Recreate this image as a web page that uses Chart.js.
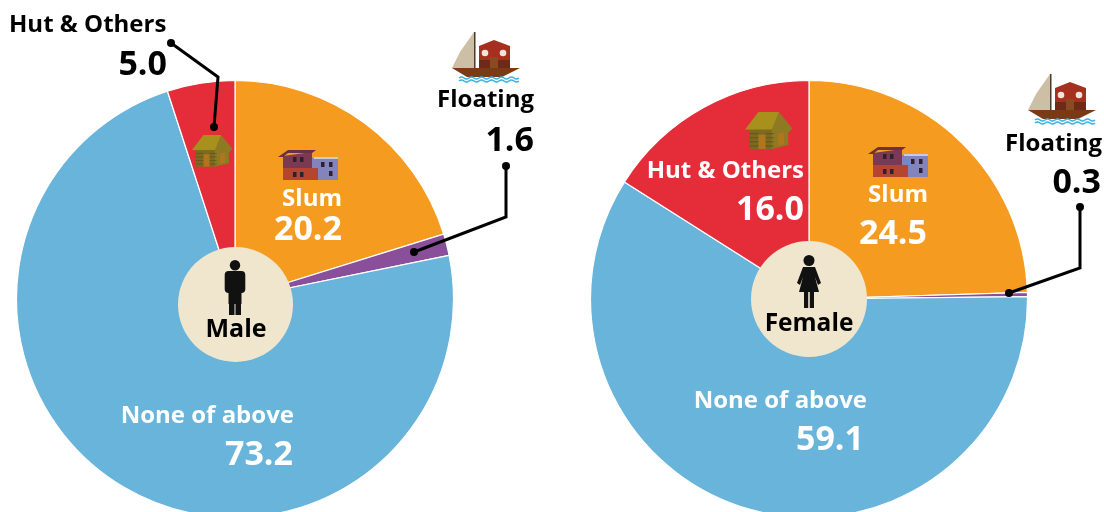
<!DOCTYPE html>
<html>
<head>
<meta charset="utf-8">
<script src="https://cdn.jsdelivr.net/npm/chart.js@4"></script>
<style>
  html, body { margin: 0; padding: 0; background: #fff; overflow: hidden; }
  #wrap { position: relative; width: 1104px; height: 512px; }
  canvas { position: absolute; top: 0; }
</style>
</head>
<body>
<div id="wrap">
  <canvas id="maleChart" width="552" height="512" style="left:0"></canvas>
  <canvas id="femaleChart" width="552" height="512" style="left:552px"></canvas>
</div>
<script>
const categories = ["Slum", "Floating", "None of above", "Hut & Others"]
const maleValues = [20.2, 1.6, 73.2, 5.0]
const femaleValues = [24.5, 0.3, 59.1, 16.0]
const genders = ["Male", "Female"]

const sliceColors = ["#F59C20", "#8A4F9B", "#69B4DA", "#E52D3A"]
const FONT = "'Open Sans', 'Noto Sans', sans-serif"
const NAME_SIZE = 24
const VALUE_SIZE = 34

// Draw text with weight and alignment in one call
function drawText(ctx, text, x, y, size, color, align) {
  ctx.font = `bold ${size}px ${FONT}`
  ctx.fillStyle = color
  ctx.textAlign = align || "left"
  ctx.textBaseline = "alphabetic"
  ctx.fillText(text, x, y)
}

function polygon(ctx, color, pts) {
  ctx.fillStyle = color
  ctx.beginPath()
  pts.forEach((p, i) => (i ? ctx.lineTo(p[0], p[1]) : ctx.moveTo(p[0], p[1])))
  ctx.closePath()
  ctx.fill()
}

function dot(ctx, x, y) {
  ctx.fillStyle = "#000"
  ctx.beginPath()
  ctx.arc(x, y, 4, 0, Math.PI * 2)
  ctx.fill()
}

// Leader line with a dot on each end
function leader(ctx, pts) {
  ctx.strokeStyle = "#000"
  ctx.lineWidth = 3
  ctx.lineJoin = "miter"
  ctx.beginPath()
  pts.forEach((p, i) => (i ? ctx.lineTo(p[0], p[1]) : ctx.moveTo(p[0], p[1])))
  ctx.stroke()
  dot(ctx, pts[0][0], pts[0][1])
  dot(ctx, pts[pts.length - 1][0], pts[pts.length - 1][1])
}

// Icons, drawn in a local box and scaled to fit
function boatIcon(ctx, x, y, s) {
  ctx.save()
  ctx.translate(x, y)
  ctx.scale(s, s)
  polygon(ctx, "#CDBFA6", [[22, 0], [22, 36], [0, 36], [8, 20]])
  polygon(ctx, "#4A3A2A", [[22, 0], [23.5, 0], [23.5, 37], [22, 37]])
  polygon(ctx, "#A5301F", [[27, 14], [42, 8], [58, 14], [58, 36], [27, 36]])
  polygon(ctx, "#6E2A18", [[27, 28], [58, 28], [58, 36], [27, 36]])
  polygon(ctx, "#8A4A22", [[38, 25], [46, 25], [46, 36], [38, 36]])
  ctx.fillStyle = "#EDE6DA"
  ctx.beginPath()
  ctx.arc(33, 21, 3.3, 0, Math.PI * 2)
  ctx.arc(51, 21, 3.3, 0, Math.PI * 2)
  ctx.fill()
  polygon(ctx, "#7A3A14", [[0, 36], [68, 36], [50, 45], [15, 45]])
  ctx.strokeStyle = "#3FB2E0"
  ctx.lineWidth = 1.6
  for (const wy of [46, 49]) {
    ctx.beginPath()
    ctx.moveTo(7, wy)
    for (let wx = 7; wx < 60; wx += 10) {
      ctx.quadraticCurveTo(wx + 2.5, wy - 2, wx + 5, wy)
      ctx.quadraticCurveTo(wx + 7.5, wy + 2, wx + 10, wy)
    }
    ctx.stroke()
  }
  ctx.restore()
}

function hutIcon(ctx, x, y, s) {
  ctx.save()
  ctx.translate(x, y)
  ctx.scale(s, s)
  polygon(ctx, "#7C6A20", [[4, 15], [28, 15], [28, 36], [4, 36]])
  polygon(ctx, "#8E7A22", [[26, 15], [33, 0], [46, 16], [42, 20], [42, 32], [26, 36]])
  polygon(ctx, "#A8901C", [[0, 17], [13, 0], [33, 0], [26, 17]])
  polygon(ctx, "#B0761E", [[13, 22], [20, 22], [20, 36], [13, 36]])
  polygon(ctx, "#B0761E", [[32, 21], [38, 20], [38, 31], [32, 33]])
  ctx.strokeStyle = "#5F5214"
  ctx.lineWidth = 0.8
  for (const ly of [21, 25, 29, 33]) {
    ctx.beginPath()
    ctx.moveTo(4, ly)
    ctx.lineTo(13, ly)
    ctx.moveTo(20, ly)
    ctx.lineTo(28, ly)
    ctx.stroke()
  }
  ctx.restore()
}

function slumIcon(ctx, x, y, s) {
  ctx.save()
  ctx.translate(x, y)
  ctx.scale(s, s)
  polygon(ctx, "#8484BC", [[32, 11], [60, 11], [60, 33], [32, 33]])
  polygon(ctx, "#C9C9E0", [[36, 10], [60, 10], [60, 12], [36, 12]])
  polygon(ctx, "#7B3A52", [[5, 9], [34, 5], [34, 33], [5, 33]])
  polygon(ctx, "#B5452F", [[5, 21], [40, 21], [40, 33], [5, 33]])
  polygon(ctx, "#6A3044", [[0, 10], [10, 3], [38, 3], [34, 6], [10, 6], [5, 10]])
  ctx.fillStyle = "#2E2030"
  for (const [wx, wy] of [[15, 10], [22, 10], [15, 25], [22, 25], [43, 15], [51, 15], [51, 24]]) {
    ctx.fillRect(wx, wy, 3.5, 5)
  }
  ctx.restore()
}

function maleIcon(ctx, cx, top) {
  ctx.fillStyle = "#111"
  ctx.beginPath()
  ctx.arc(cx, top + 5.2, 5.2, 0, Math.PI * 2)
  ctx.fill()
  ctx.beginPath()
  ctx.roundRect(cx - 10.3, top + 11, 20.6, 22, 4)
  ctx.fill()
  ctx.fillRect(cx - 6.5, top + 20, 13, 24)
  ctx.fillRect(cx - 6, top + 34, 5.5, 21)
  ctx.fillRect(cx + 0.5, top + 34, 5.5, 21)
}

function femaleIcon(ctx, cx, top) {
  ctx.fillStyle = "#111"
  ctx.beginPath()
  ctx.arc(cx, top + 5.5, 5.5, 0, Math.PI * 2)
  ctx.fill()
  polygon(ctx, "#111", [[cx - 6, top + 12], [cx + 6, top + 12], [cx + 12, top + 28], [cx + 9, top + 30],
    [cx + 6, top + 22], [cx + 10, top + 37], [cx - 10, top + 37], [cx - 6, top + 22], [cx - 9, top + 30], [cx - 12, top + 28]])
  ctx.fillRect(cx - 5, top + 36, 4.2, 17)
  ctx.fillRect(cx + 0.8, top + 36, 4.2, 17)
}

// Everything on top of the pie in the male panel (canvas coords = page coords)
function drawMaleOverlay(ctx) {
  ctx.fillStyle = "#F0E6CE"
  ctx.beginPath()
  ctx.arc(235.5, 304.5, 57.5, 0, Math.PI * 2)
  ctx.fill()
  maleIcon(ctx, 235, 260)
  drawText(ctx, genders[0], 236, 337, 25, "#000", "center")

  hutIcon(ctx, 192, 135, 0.88)
  slumIcon(ctx, 278, 147, 1)
  boatIcon(ctx, 452, 32, 1)

  leader(ctx, [[171, 43], [218, 77], [214, 127]])
  leader(ctx, [[506, 166], [506, 217], [414, 252]])

  drawText(ctx, categories[3], 9, 32, NAME_SIZE, "#000")
  drawText(ctx, maleValues[3].toFixed(1), 167, 75, VALUE_SIZE, "#000", "right")
  drawText(ctx, categories[1], 534, 107, NAME_SIZE, "#000", "right")
  drawText(ctx, maleValues[1].toFixed(1), 534, 151, VALUE_SIZE, "#000", "right")
  drawText(ctx, categories[0], 342, 206, NAME_SIZE, "#fff", "right")
  drawText(ctx, maleValues[0].toFixed(1), 342, 240, VALUE_SIZE, "#fff", "right")
  drawText(ctx, categories[2], 294, 423, NAME_SIZE, "#fff", "right")
  drawText(ctx, maleValues[2].toFixed(1), 293, 465, VALUE_SIZE, "#fff", "right")
}

// Female panel, shifted so coordinates below read as page coords
function drawFemaleOverlay(ctx) {
  ctx.translate(-552, 0)
  ctx.fillStyle = "#F0E6CE"
  ctx.beginPath()
  ctx.arc(809, 299, 58, 0, Math.PI * 2)
  ctx.fill()
  femaleIcon(ctx, 809, 255)
  drawText(ctx, genders[1], 809, 331, 24.5, "#000", "center")

  hutIcon(ctx, 745, 112, 1.03)
  slumIcon(ctx, 868, 144, 1)
  boatIcon(ctx, 1028, 74, 1)

  leader(ctx, [[1080, 207], [1080, 268], [1009, 293]])

  drawText(ctx, categories[3], 804, 178, NAME_SIZE, "#fff", "right")
  drawText(ctx, femaleValues[3].toFixed(1), 804, 220, VALUE_SIZE, "#fff", "right")
  drawText(ctx, categories[0], 928, 202, NAME_SIZE, "#fff", "right")
  drawText(ctx, femaleValues[0].toFixed(1), 927, 244, VALUE_SIZE, "#fff", "right")
  drawText(ctx, categories[1], 1102, 151, NAME_SIZE, "#000", "right")
  drawText(ctx, femaleValues[1].toFixed(1), 1101, 193, VALUE_SIZE, "#000", "right")
  drawText(ctx, categories[2], 867, 408, NAME_SIZE, "#fff", "right")
  drawText(ctx, femaleValues[2].toFixed(1), 864, 450, VALUE_SIZE, "#fff", "right")
}

function overlayPlugin(draw) {
  return {
    id: "overlay",
    afterDraw(chart) {
      chart.ctx.save()
      draw(chart.ctx)
      chart.ctx.restore()
    },
  }
}

function makePie(id, values, padding, draw) {
  return new Chart(document.getElementById(id), {
    type: "pie",
    data: {
      labels: categories,
      datasets: [
        {
          data: values,
          backgroundColor: sliceColors,
          borderColor: "#ffffff",
          borderWidth: 1.2,
        },
      ],
    },
    options: {
      responsive: false,
      animation: false,
      radius: 218.5,
      layout: { padding: padding },
      plugins: {
        legend: { display: false },
        tooltip: { enabled: false },
      },
    },
    plugins: [overlayPlugin(draw)],
  })
}

// Padding moves the pie centres to (235, 299) and (809, 299) on the page
makePie("maleChart", maleValues, { top: 86, right: 82 }, drawMaleOverlay)
makePie("femaleChart", femaleValues, { top: 86, right: 38 }, drawFemaleOverlay)
</script>
</body>
</html>
